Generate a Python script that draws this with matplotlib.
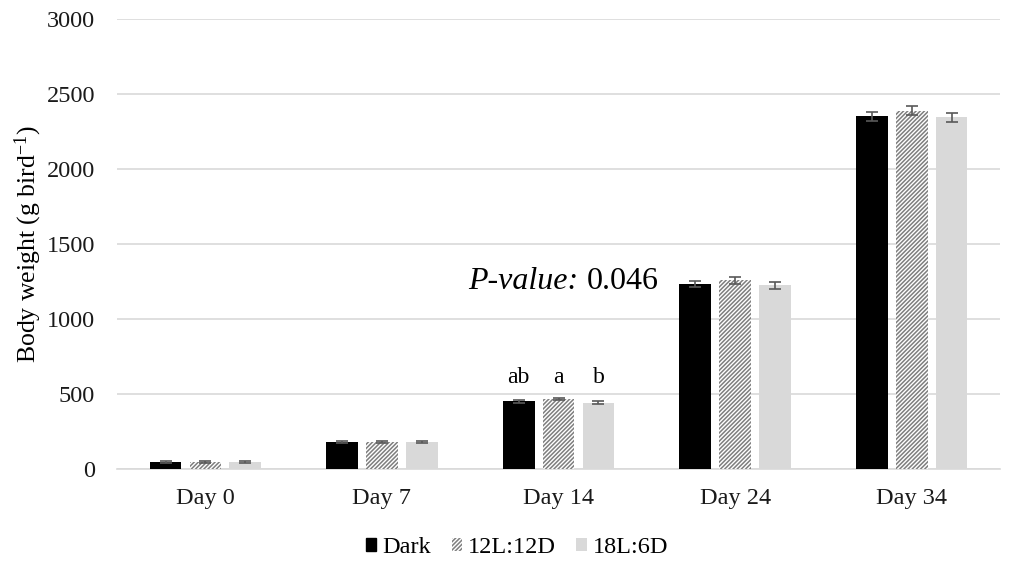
import matplotlib
matplotlib.use("Agg")
import matplotlib.pyplot as plt
import numpy as np
from matplotlib.patches import Patch

plt.rcParams['font.family'] = ['Liberation Serif', 'DejaVu Serif']
plt.rcParams['mathtext.fontset'] = 'custom'
plt.rcParams['mathtext.rm'] = 'Liberation Serif'
plt.rcParams['mathtext.it'] = 'Liberation Serif:italic'
plt.rcParams['hatch.linewidth'] = 1.0

categories = ["Day 0", "Day 7", "Day 14", "Day 24", "Day 34"]
series_names = ["Dark", "12L:12D", "18L:6D"]
dark = [47, 180, 453, 1233, 2353]
l12 = [47, 182, 465, 1257, 2390]
l18 = [47, 180, 443, 1225, 2347]
dark_err = [6, 6, 10, 22, 30]
l12_err = [6, 6, 8, 22, 30]
l18_err = [6, 6, 10, 22, 30]
letters_day14 = ["ab", "a", "b"]

fig = plt.figure(figsize=(10.10, 5.63), dpi=100)
ax = fig.add_axes([0.116, 0.167, 0.874, 0.799])

x = np.arange(len(categories))
w = 0.18
step = 0.226
series = [dark, l12, l18]
errs = [dark_err, l12_err, l18_err]
HATCH = "////////"
styles = [
    dict(color="black"),
    dict(facecolor="#7f7f7f", hatch=HATCH, edgecolor="white", linewidth=0),
    dict(color="#d9d9d9"),
]
for i, (vals, er, st) in enumerate(zip(series, errs, styles)):
    ax.bar(x + (i - 1) * step, vals, w, zorder=3, **st)
    ax.errorbar(x + (i - 1) * step, vals, yerr=er, fmt="none", ecolor="#595959",
                elinewidth=1.2, capsize=4, capthick=1.2, zorder=4)

letter_y = max(v[2] for v in series) + 110
for i, lab in enumerate(letters_day14):
    ax.text(2 + (i - 1) * step, letter_y, lab, ha="center", va="baseline",
            fontsize=17)

t1 = ax.text(1.488, 1200, "P-value: ", ha="left", va="baseline", fontsize=23,
             style="italic")
ax.annotate("0.046", xy=(1, 0), xycoords=t1, ha="left", va="bottom", fontsize=23)

ax.set_xlim(-0.5, 4.5)
ax.set_ylim(0, 3000)
ax.set_yticks(range(0, 3001, 500))
ax.set_xticks(x)
ax.set_xticklabels(categories)
ax.tick_params(axis="both", length=0, labelsize=17.5, colors="#1a1a1a")
ax.tick_params(axis="y", pad=16)
ax.tick_params(axis="x", pad=14)
ax.yaxis.grid(True, color="#d9d9d9", linewidth=1.2, zorder=0)
ax.set_axisbelow(True)
for s in ["top", "right", "left"]:
    ax.spines[s].set_visible(False)
ax.spines["bottom"].set_color("#d9d9d9")
ax.spines["bottom"].set_linewidth(1.2)
ax.set_ylabel(r"Body weight (g bird$^{\mathregular{-1}}$)", fontsize=18.5, labelpad=2)

handles = [Patch(color="black"),
           Patch(facecolor="#7f7f7f", hatch=HATCH, edgecolor="white", linewidth=0),
           Patch(facecolor="#d9d9d9")]
fig.legend(handles, series_names, loc="center", bbox_to_anchor=(0.512, 0.027), ncol=3,
           frameon=False, fontsize=17.5, handlelength=0.42, handleheight=0.42,
           handletextpad=0.25, columnspacing=0.85)

fig.savefig("out.png", dpi=100)
